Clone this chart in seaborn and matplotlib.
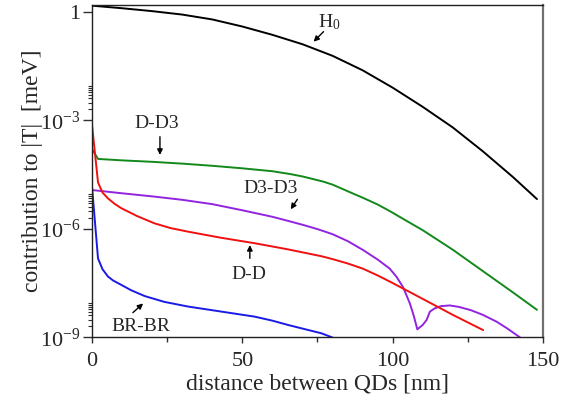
import matplotlib
matplotlib.use("Agg")
import matplotlib.pyplot as plt
from matplotlib.ticker import FixedLocator, FixedFormatter, NullFormatter
import seaborn as sns

# --- data: contributions to |T| (meV) versus QD separation (nm) ---
h0_x = [0, 10, 20, 30, 40, 50, 60, 70, 80, 90, 100, 110, 120, 130, 140, 148]
h0_y = [1.466, 1.245, 1.035, 0.832, 0.610, 0.389, 0.229, 0.126, 0.0603,
        0.0240, 7.94e-3, 2.34e-3, 6.31e-4, 1.38e-4, 2.69e-5, 6.61e-6]

dd3_x = [0, 2, 10, 20, 30, 40, 50, 60, 66, 70, 77, 80, 88, 90, 95, 99, 105,
         110, 115, 120, 130, 140, 148]
dd3_y = [1.585e-4, 8.51e-5, 7.76e-5, 7.08e-5, 6.31e-5, 5.50e-5, 4.68e-5,
         3.89e-5, 3.24e-5, 2.79e-5, 2.0e-5, 1.66e-5, 8.51e-6, 7.24e-6, 4.68e-6,
         3.09e-6, 1.585e-6, 9.12e-7, 4.90e-7, 2.63e-7, 6.76e-8, 1.74e-8, 5.75e-9]

d3d3_x = [0, 10, 20, 30, 40, 50, 60, 66, 70, 75, 80, 85, 90, 95, 99, 101.3,
          103.5, 105.7, 107, 108.2, 110, 111.3, 112.4, 114, 116, 119, 122, 126,
          130, 134.6, 138, 142.3]
d3d3_y = [1.175e-5, 9.55e-6, 7.85e-6, 6.31e-6, 4.79e-6, 3.24e-6, 2.14e-6,
          1.585e-6, 1.29e-6, 9.77e-7, 7.08e-7, 4.57e-7, 2.63e-7, 1.41e-7,
          7.94e-8, 4.68e-8, 2.40e-8, 8.7e-9, 3.98e-9, 1.66e-9, 2.19e-9, 3.02e-9,
          5.13e-9, 6.31e-9, 7.24e-9, 7.59e-9, 6.92e-9, 5.62e-9, 4.17e-9,
          2.69e-9, 1.78e-9, 1.0e-9]

dd_x = [0, 2, 3.5, 5.3, 7.5, 9.7, 15, 20.8, 26, 31.9, 43, 54.1, 65.2, 76.3,
        80, 85, 90, 95, 100, 110, 120, 130.1]
dd_y = [7.41e-4, 1.91e-5, 1.0e-5, 6.92e-6, 4.9e-6, 3.72e-6, 2.24e-6, 1.41e-6,
        1.05e-6, 8.32e-7, 5.62e-7, 3.98e-7, 2.69e-7, 1.74e-7, 1.45e-7,
        1.10e-7, 7.94e-8, 5.13e-8, 3.16e-8, 1.15e-8, 4.17e-9, 1.58e-9]

brbr_x = [0, 2, 3.5, 5.3, 7, 9.7, 13, 17.5, 24, 31.9, 43, 54.1, 60, 65.2, 70, 76.3, 80.7]
brbr_y = [1.45e-5, 1.51e-7, 7.59e-8, 4.79e-8, 3.72e-8, 2.82e-8, 2.0e-8, 1.38e-8,
          9.55e-9, 7.08e-9, 5.13e-9, 3.72e-9, 2.88e-9, 2.19e-9, 1.74e-9,
          1.29e-9, 9.33e-10]

x_ticks = [0, 50, 100, 150]
x_minor = [25, 75, 125]
y_ticks = [1, 1e-3, 1e-6, 1e-9]
y_tick_labels = ["1", r"$10^{-3}$", r"$10^{-6}$", r"$10^{-9}$"]
y_minor = [k * 10.0 ** e for e in (-3, -6, -9) for k in range(2, 10)]

sns.set_style("ticks")
plt.rcParams["font.family"] = ["Liberation Serif", "DejaVu Serif"]
plt.rcParams["mathtext.fontset"] = "custom"
plt.rcParams["mathtext.rm"] = "Liberation Serif"
plt.rcParams["mathtext.it"] = "Liberation Serif:italic"

fig = plt.figure(figsize=(5.79, 4.01), dpi=100)
ax = fig.add_axes([0.1589, 0.1589, 0.7789, 0.8294])

series = [
    (h0_x, h0_y, "black"),
    (dd3_x, dd3_y, "#12891a"),
    (d3d3_x, d3d3_y, "#9224e0"),
    (dd_x, dd_y, "#f01010"),
    (brbr_x, brbr_y, "#1a1ae6"),
]
for xs, ys, col in series:
    sns.lineplot(x=xs, y=ys, ax=ax, color=col, lw=1.4, estimator=None, sort=False)

ax.set_yscale("log")
ax.set_xlim(0, 150)
ax.set_ylim(1e-9, 1.56)

ax.xaxis.set_major_locator(FixedLocator(x_ticks))
ax.xaxis.set_minor_locator(FixedLocator(x_minor))
ax.yaxis.set_major_locator(FixedLocator(y_ticks))
ax.yaxis.set_major_formatter(FixedFormatter(y_tick_labels))
ax.yaxis.set_minor_locator(FixedLocator(y_minor))
ax.yaxis.set_minor_formatter(NullFormatter())

ax.tick_params(axis="both", which="major", direction="out", labelsize=16,
               color="#303030", width=1.0)
ax.tick_params(axis="y", which="major", length=6.5, pad=2)
ax.tick_params(axis="x", which="major", length=4.0, pad=6.5)
ax.tick_params(axis="y", which="minor", length=3, width=0.8, color="#303030")
ax.tick_params(axis="x", which="minor", length=3.5, width=1.0, color="#303030")

for side in ("left", "top", "bottom"):
    ax.spines[side].set_color("#202020")
    ax.spines[side].set_linewidth(1.0)
ax.spines["right"].set_color("#707070")
ax.spines["right"].set_linewidth(1.6)

ax.set_xlabel("distance between QDs [nm]", fontsize=17, labelpad=2)
ax.set_ylabel("contribution to |T|  [meV]", fontsize=17, labelpad=-2)

arrow = dict(arrowstyle="-|>", color="black", lw=1.0, mutation_scale=8,
             shrinkA=0, shrinkB=0)
lab = dict(fontsize=14, ha="center", va="center")

ax.text(78.8, 0.52, r"H$_0$", **lab)
ax.annotate("", xy=(73.7, 0.148), xytext=(77.0, 0.28), arrowprops=arrow)

ax.text(21.5, 7.9e-4, "D-D3", **lab)
ax.annotate("", xy=(22.6, 1.1e-4), xytext=(22.6, 3.5e-4), arrowprops=arrow)

ax.text(59.4, 1.32e-5, "D3-D3", **lab)
ax.annotate("", xy=(66.1, 3.45e-6), xytext=(68.3, 6.5e-6), arrowprops=arrow)

ax.text(52.2, 5.5e-8, "D-D", **lab)
ax.annotate("", xy=(52.5, 3.55e-7), xytext=(52.5, 1.52e-7), arrowprops=arrow)

ax.text(16.2, 2.0e-9, "BR-BR", **lab)
ax.annotate("", xy=(17.0, 8.6e-9), xytext=(13.6, 4.8e-9), arrowprops=arrow)

fig.savefig("out.png", dpi=100)
